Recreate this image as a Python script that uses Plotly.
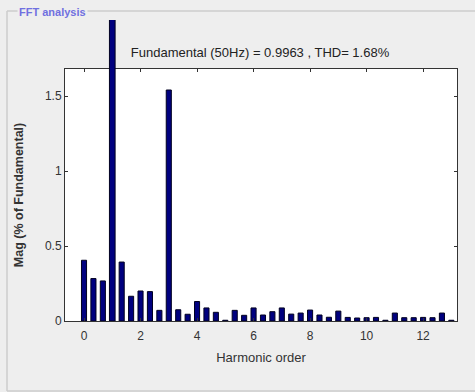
import plotly.graph_objects as go

# Harmonic orders (interharmonic resolution of 1/3)
orders = [0, 0.3333, 0.6667, 1, 1.3333, 1.6667, 2, 2.3333, 2.6667, 3,
          3.3333, 3.6667, 4, 4.3333, 4.6667, 5, 5.3333, 5.6667, 6, 6.3333,
          6.6667, 7, 7.3333, 7.6667, 8, 8.3333, 8.6667, 9, 9.3333, 9.6667,
          10, 10.3333, 10.6667, 11, 11.3333, 11.6667, 12, 12.3333, 12.6667, 13]
# Magnitude (% of fundamental); fundamental = 100 (clipped)
mags = [0.405, 0.283, 0.267, 100, 0.393, 0.165, 0.200, 0.196, 0.071, 1.540,
        0.075, 0.045, 0.130, 0.087, 0.058, 0.005, 0.071, 0.038, 0.087, 0.040,
        0.062, 0.087, 0.046, 0.053, 0.073, 0.040, 0.025, 0.066, 0.024, 0.020,
        0.022, 0.024, 0.005, 0.053, 0.022, 0.022, 0.024, 0.022, 0.053, 0.005]
fund_order = 1
xticks = [0, 2, 4, 6, 8, 10, 12]
yticks = [0, 0.5, 1, 1.5]
title_text = "Fundamental (50Hz) = 0.9963 , THD= 1.68%"
panel_title = "FFT analysis"

W, H = 475, 392
ML, MR, MT, MB = 65, 18, 20, 71
PW, PH = W - ML - MR, H - MT - MB
box_top_px = 69
box_frac = (H - MB - box_top_px) / PH
ymax_main = 1.68
ymax_full = ymax_main / box_frac


def px_x(p):
    return (p - ML) / PW


def px_y(p):
    return (H - MB - p) / PH


hx = [o for o in orders if o != fund_order]
hy = [m for o, m in zip(orders, mags) if o != fund_order]
fx = [o for o in orders if o == fund_order]
fy = [m for o, m in zip(orders, mags) if o == fund_order]

NAVY = "#00007f"
fig = go.Figure()
fig.add_trace(go.Bar(x=hx, y=hy, width=0.18, marker=dict(color=NAVY, line=dict(color="#000020", width=1)),
                     xaxis="x", yaxis="y", showlegend=False))
fig.add_trace(go.Bar(x=fx, y=fy, width=0.2, marker=dict(color=NAVY, line=dict(color="#000020", width=1)),
                     xaxis="x", yaxis="y2", showlegend=False))

font = "Liberation Sans, Arial, sans-serif"
fig.update_layout(
    width=W, height=H,
    margin=dict(l=ML, r=MR, t=MT, b=MB, pad=0),
    paper_bgcolor="#eeeeee",
    plot_bgcolor="rgba(0,0,0,0)",
    font=dict(family=font, size=12, color="#333333"),
    title=dict(text=title_text, x=px_x(260), xref="paper", xanchor="center",
               y=1 - 52 / H, yref="container", yanchor="middle",
               font=dict(size=13, color="#222222")),
    barmode="overlay",
    xaxis=dict(range=[-0.673, 13.2], domain=[0, 1], anchor="y",
               tickvals=xticks, ticktext=[str(t) for t in xticks],
               ticks="inside", ticklen=3, tickcolor="#333333", ticklabelstandoff=4,
               showline=True, linecolor="#333333", linewidth=1, mirror="ticks",
               showgrid=False, zeroline=False,
               title=dict(text="Harmonic order", standoff=10, font=dict(size=13, color="#333333"))),
    yaxis=dict(range=[0, ymax_main], domain=[0, box_frac], anchor="x",
               tickvals=yticks, ticktext=["0", "0.5", "1", "1.5"],
               ticks="inside", ticklen=3, tickcolor="#333333",
               showline=True, linecolor="#333333", linewidth=1, mirror="ticks",
               showgrid=False, zeroline=False,
               title=dict(text="<b>Mag (% of Fundamental)</b>", standoff=18,
                          font=dict(size=12.5, color="#333333"))),
    yaxis2=dict(range=[0, ymax_full], domain=[0, 1], anchor="x", visible=False,
                showgrid=False, zeroline=False),
    shapes=[
        # white axes background
        dict(type="rect", xref="x domain", yref="y domain", x0=0, x1=1, y0=0, y1=1,
             fillcolor="white", line=dict(width=0), layer="below"),
        # panel frame
        dict(type="line", xref="paper", yref="paper", x0=px_x(7), x1=px_x(7),
             y0=px_y(11), y1=px_y(391), line=dict(color="#cccccc", width=1.5)),
        dict(type="line", xref="paper", yref="paper", x0=px_x(7), x1=px_x(475),
             y0=px_y(11), y1=px_y(11), line=dict(color="#cccccc", width=1.5)),
        dict(type="line", xref="paper", yref="paper", x0=px_x(7), x1=px_x(475),
             y0=px_y(391), y1=px_y(391), line=dict(color="#cccccc", width=1.5)),
    ],
    annotations=[
        dict(text="<b>" + panel_title + "</b>", xref="paper", yref="paper",
             x=px_x(17), y=px_y(12), xanchor="left", yanchor="middle", showarrow=False,
             bgcolor="#eeeeee", borderpad=1,
             font=dict(size=11, color="#7070e0", family=font)),
    ],
)

fig.write_html("out.html")
